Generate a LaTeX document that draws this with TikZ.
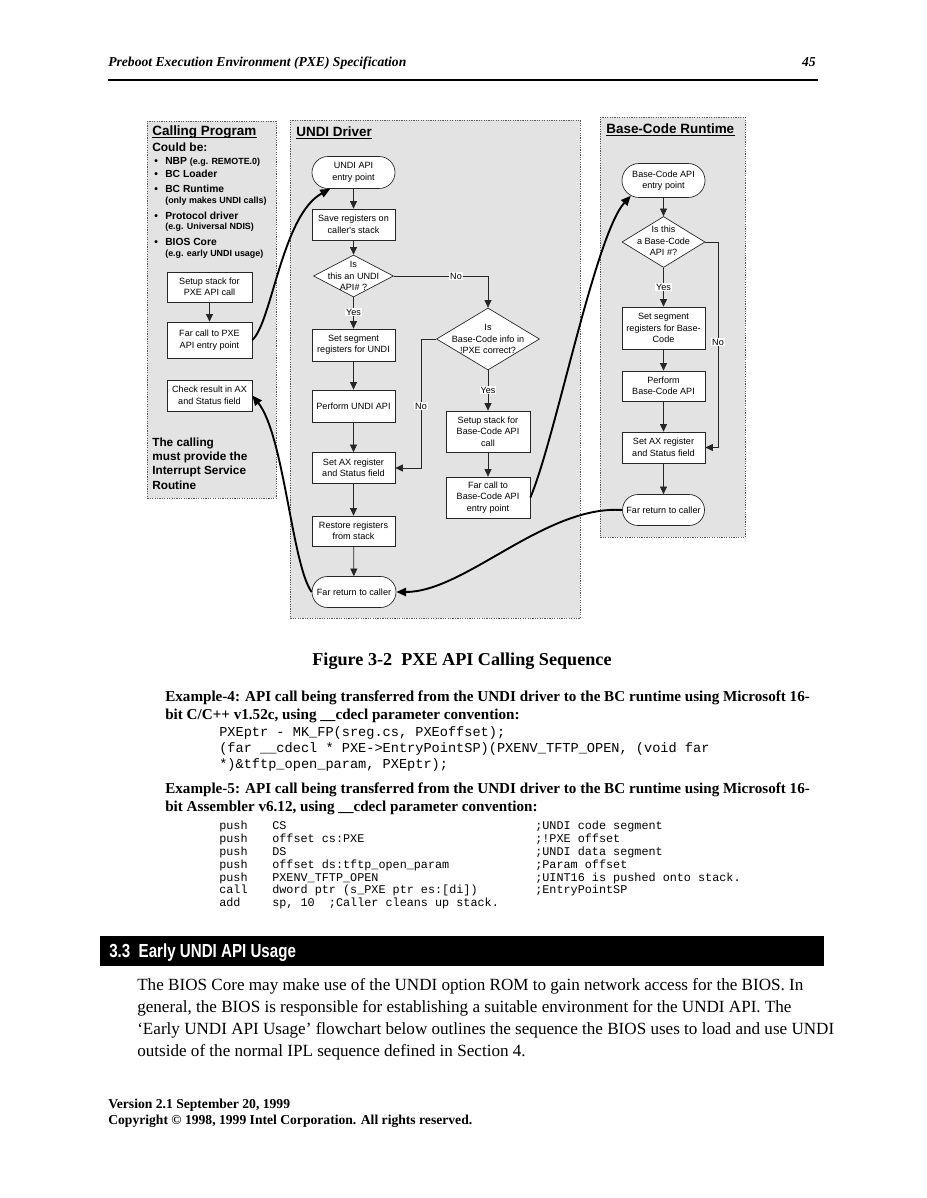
\documentclass[tikz,border=0pt]{standalone}
\usepackage{fontspec}
\setmainfont{Liberation Serif}
\setmonofont{Liberation Mono}
\newfontfamily\arial{Liberation Sans}
\newfontfamily\arialn[FakeStretch=0.8]{Liberation Sans}
\usetikzlibrary{shapes.geometric,shapes.misc,arrows.meta,calc}
\def\pxl{0.661pt}
\newcommand\dfont{\arial\fontsize{6}{7.6}\selectfont}
\begin{document}
\begin{tikzpicture}[x=0.661pt,y=-0.661pt,
  panel/.style={fill=black!11,draw=black!65,dash pattern=on 0.8pt off 0.8pt,line width=0.4pt},
  fbox/.style={draw=black!85,fill=white,line width=0.45pt,font=\dfont,align=center,inner sep=0pt,minimum width=83*\pxl},
  term/.style={rounded rectangle,draw=black!85,fill=white,line width=0.45pt,font=\dfont,align=center,inner sep=0pt,minimum width=83*\pxl,minimum height=32*\pxl},
  dia/.style={diamond,draw=black!85,fill=white,line width=0.45pt,inner sep=0pt},
  dtext/.style={font=\dfont,align=center,inner sep=0pt},
  flow/.style={draw=black!85,line width=0.5pt,-{Triangle[length=5pt,width=4.6pt]}},
  curv/.style={draw=black,line width=1.25pt,-{Triangle[length=6.5pt,width=5.5pt]}},
  lbl/.style={fill=white,inner sep=0.7pt,font=\dfont},
  txt/.style={anchor=base west,inner sep=0pt},
  ttl/.style={anchor=base west,inner sep=0pt,font=\arial\bfseries\fontsize{8.9}{10}\selectfont},
  uline/.style={line width=0.6pt},
]
\useasboundingbox (0,0) rectangle (926,1198);
\fill[white] (0,0) rectangle (926,1198);

% header
\node[txt,font=\fontsize{9}{11}\selectfont\bfseries\itshape] (hd) at (108,67) {Preboot Execution Environment (PXE) Specification};
\node[anchor=base east,inner sep=0pt,font=\fontsize{9}{11}\selectfont\bfseries\itshape] (pg) at (816,67) {45};
\coordinate (r1) at (108,80);
\coordinate (r2) at (818,80);
\draw[line width=0.9pt] (r1) -- (r2);

% panels
\node[panel,anchor=north west,minimum width=129*\pxl,minimum height=377*\pxl,inner sep=0pt] (pc) at (147,121) {};
\node[panel,anchor=north west,minimum width=290*\pxl,minimum height=498*\pxl,inner sep=0pt] (pu) at (290,120) {};
\node[panel,anchor=north west,minimum width=145*\pxl,minimum height=420*\pxl,inner sep=0pt] (pb) at (600,117) {};

% calling program texts
\node[ttl] (ct) at (152,136) {Calling Program};
\draw[uline] ($(ct.base west)+(0,1.8)$) -- ($(ct.base east)+(0,1.8)$);
\node[txt,font=\arial\bfseries\fontsize{7.9}{9}\selectfont] (cb) at (152,151.5) {Could be:};
\tikzset{bul/.style={anchor=base west,inner sep=0pt,font=\arial\bfseries\fontsize{6.8}{8}\selectfont},
         sub/.style={font=\arial\bfseries\fontsize{5.9}{7}\selectfont}}
\node[bul] (b1d) at (154,164.7) {•};
\node[bul] (b1) at (165,164.7) {NBP {\fontsize{5.9}{7}\selectfont (e.g. REMOTE.0)}};
\node[bul] (b2d) at (154,177.7) {•};
\node[bul] (b2) at (165,177.7) {BC Loader};
\node[bul] (b3d) at (154,192.7) {•};
\node[bul] (b3) at (165,192.7) {BC Runtime};
\node[txt,sub] (b3s) at (165,203.2) {(only makes UNDI calls)};
\node[bul] (b4d) at (154,219.7) {•};
\node[bul] (b4) at (165,219.7) {Protocol driver};
\node[txt,sub] (b4s) at (165,229.2) {(e.g. Universal NDIS)};
\node[bul] (b5d) at (154,245.7) {•};
\node[bul] (b5) at (165,245.7) {BIOS Core};
\node[txt,sub] (b5s) at (165,256.2) {(e.g. early UNDI usage)};

\node[fbox,minimum height=30*\pxl,minimum width=85*\pxl] (cs) at (209.5,287) {Setup stack for\\PXE API call};
\node[fbox,minimum height=36*\pxl,minimum width=85*\pxl] (cf) at (209.5,340) {Far call to PXE\\API entry point};
\node[fbox,minimum height=31*\pxl,minimum width=85*\pxl] (cr) at (209.5,395.5) {Check result in AX\\and Status field};
\draw[flow] (cs) -- (cf);

\node[txt,font=\arial\bfseries\fontsize{7.8}{9.3}\selectfont,align=left,anchor=north west] (ci) at (152,438) {The calling\\must provide the\\Interrupt Service\\Routine};

% UNDI driver
\node[ttl] (ut) at (296,136.5) {UNDI Driver};
\draw[uline] ($(ut.base west)+(0,1.8)$) -- ($(ut.base east)+(0,1.8)$);
\node[term] (ue) at (353.5,172.5) {UNDI API\\entry point};
\node[fbox,minimum height=31*\pxl] (us) at (353.5,224.5) {Save registers on\\caller's stack};
\node[dia,minimum width=80*\pxl,minimum height=42*\pxl] (d1) at (353.5,276) {};
\node[dtext] (d1t) at (353.5,276) {Is\\this an UNDI\\API\# ?};
\node[fbox,minimum height=32*\pxl] (ss) at (353.5,345) {Set segment\\registers for UNDI};
\node[fbox,minimum height=32*\pxl] (pf) at (353.5,406) {Perform UNDI API};
\node[fbox,minimum height=31*\pxl] (sa) at (353.5,468) {Set AX register\\and Status field};
\node[fbox,minimum height=30*\pxl] (rr) at (353.5,531) {Restore registers\\from stack};
\node[term,minimum width=84*\pxl,minimum height=31*\pxl] (fr) at (354,592) {Far return to caller};

\node[dia,minimum width=103*\pxl,minimum height=62*\pxl] (d2) at (488,339) {};
\node[dtext] (d2t) at (488,339) {Is\\Base-Code info in\\!PXE correct?};
\node[fbox,minimum width=84*\pxl,minimum height=41*\pxl] (sb) at (488,431.5) {Setup stack for\\Base-Code API\\call};
\node[fbox,minimum width=84*\pxl,minimum height=41*\pxl] (fb) at (488,497.5) {Far call to\\Base-Code API\\entry point};

\draw[flow] (ue) -- (us);
\draw[flow] (us) -- (d1);
\draw[flow] (d1) -- (ss);
\draw[flow] (ss) -- (pf);
\draw[flow] (pf) -- (sa);
\draw[flow] (sa) -- (rr);
\draw[flow] (rr) -- (fr);
\draw[flow] (d1.east) -| (d2.north);
\coordinate (k1) at (421,339);
\draw[flow] (d2.west) -- (k1) |- (sa.east);
\draw[flow] (d2) -- (sb);
\draw[flow] (sb) -- (fb);
\node[lbl] (y1) at (353.5,312) {Yes};
\node[lbl] (n1) at (456,276) {No};
\node[lbl] (n2) at (421,406) {No};
\node[lbl] (y2) at (488,390) {Yes};

% Base-code runtime
\node[ttl] (bt) at (606,133.5) {Base-Code Runtime};
\draw[uline] ($(bt.base west)+(0,1.8)$) -- ($(bt.base east)+(0,1.8)$);
\node[term,minimum width=83*\pxl,minimum height=34*\pxl] (be) at (663.5,180.5) {Base-Code API\\entry point};
\node[dia,minimum width=83*\pxl,minimum height=51*\pxl] (d3) at (663.5,242) {};
\node[dtext] (d3t) at (663.5,241) {Is this\\a Base-Code\\API \#?};
\node[fbox,minimum height=42*\pxl] (bs) at (663.5,328) {Set segment\\registers for Base-\\Code};
\node[fbox,minimum height=30*\pxl] (bp) at (663.5,386) {Perform\\Base-Code API};
\node[fbox,minimum height=31*\pxl] (ba) at (663.5,447.5) {Set AX register\\and Status field};
\node[term,minimum width=82*\pxl,minimum height=31*\pxl] (bf) at (663.5,510) {Far return to caller};
\draw[flow] (be) -- (d3);
\draw[flow] (d3) -- (bs);
\draw[flow] (bs) -- (bp);
\draw[flow] (bp) -- (ba);
\draw[flow] (ba) -- (bf);
\coordinate (k2) at (718,242);
\draw[flow] (d3.east) -- (k2) |- (ba.east);
\node[lbl] (y3) at (663.5,287) {Yes};
\node[lbl] (n3) at (718,342) {No};

% inter-program curves
\draw[curv] (cf.east) .. controls (272,322) and (282,215) .. (ue.215);
\draw[curv] (fr.west) .. controls (292,565) and (284,435) .. (cr.east);
\draw[curv] (fb.east) .. controls (555,440) and (595,235) .. (be.205);
\draw[curv] (bf.west) .. controls (545,505) and (465,592) .. (fr.east);

% caption
\node[anchor=base,inner sep=0pt,font=\fontsize{12}{14}\selectfont\bfseries] (cap) at (462,665) {Figure 3-2\ \ PXE API Calling Sequence};

% example 4
\node[txt,font=\fontsize{10}{12}\selectfont\bfseries] (e4a) at (165,701) {Example-4: API call being transferred from the UNDI driver to the BC runtime using Microsoft 16-};
\node[txt,font=\fontsize{10}{12}\selectfont\bfseries] (e4b) at (165,719) {bit C/C++ v1.52c, using \_\_cdecl parameter convention:};
\tikzset{code/.style={anchor=base west,inner sep=0pt,font=\ttfamily\fontsize{9}{10}\selectfont}}
\node[code] (c1) at (219,736) {PXEptr - MK\_FP(sreg.cs, PXEoffset);};
\node[code] (c2) at (219,752) {(far \_\_cdecl * PXE->EntryPointSP)(PXENV\_TFTP\_OPEN, (void far};
\node[code] (c3) at (219,768) {*)\&tftp\_open\_param, PXEptr);};

% example 5
\node[txt,font=\fontsize{10}{12}\selectfont\bfseries] (e5a) at (165,793) {Example-5: API call being transferred from the UNDI driver to the BC runtime using Microsoft 16-};
\node[txt,font=\fontsize{10}{12}\selectfont\bfseries] (e5b) at (165,811) {bit Assembler v6.12, using \_\_cdecl parameter convention:};
\tikzset{code5/.style={anchor=base west,inner sep=0pt,font=\ttfamily\fontsize{7.8}{9}\selectfont}}
\node[code5] (a1) at (219,829) {push};
\node[code5] (a2) at (219,842) {push};
\node[code5] (a3) at (219,855) {push};
\node[code5] (a4) at (219,868) {push};
\node[code5] (a5) at (219,881) {push};
\node[code5] (a6) at (219,893) {call};
\node[code5] (a7) at (219,906) {add};
\node[code5] (o1) at (272,829) {CS};
\node[code5] (o2) at (272,842) {offset cs:PXE};
\node[code5] (o3) at (272,855) {DS};
\node[code5] (o4) at (272,868) {offset ds:tftp\_open\_param};
\node[code5] (o5) at (272,881) {PXENV\_TFTP\_OPEN};
\node[code5] (o6) at (272,893) {dword ptr (s\_PXE ptr es:[di])};
\node[code5] (o7) at (272,906) {sp, 10\ \ ;Caller cleans up stack.};
\node[code5] (m1) at (535,829) {;UNDI code segment};
\node[code5] (m2) at (535,842) {;!PXE offset};
\node[code5] (m3) at (535,855) {;UNDI data segment};
\node[code5] (m4) at (535,868) {;Param offset};
\node[code5] (m5) at (535,881) {;UINT16 is pushed onto stack.};
\node[code5] (m6) at (535,893) {;EntryPointSP};

% section bar
\node[anchor=north west,fill=black,minimum width=724*\pxl,minimum height=30*\pxl,inner sep=0pt] (bar) at (100,936) {};
\node[txt,text=white,font=\arialn\bfseries\fontsize{12.5}{14}\selectfont] (sh) at (109,957.5) {3.3\ \ Early UNDI API Usage};

% body
\tikzset{body/.style={anchor=base west,inner sep=0pt,font=\fontsize{11.3}{13}\selectfont}}
\node[body] (p1) at (137,990.5) {The BIOS Core may make use of the UNDI option ROM to gain network access for the BIOS. In};
\node[body] (p2) at (137,1012.5) {general, the BIOS is responsible for establishing a suitable environment for the UNDI API. The};
\node[body] (p3) at (137,1034.5) {`Early UNDI API Usage' flowchart below outlines the sequence the BIOS uses to load and use UNDI};
\node[body] (p4) at (137,1056.5) {outside of the normal IPL sequence defined in Section 4.};

% footer
\node[txt,font=\fontsize{9}{11}\selectfont\bfseries] (f1) at (108,1108) {Version 2.1 September 20, 1999};
\node[txt,font=\fontsize{9}{11}\selectfont\bfseries] (f2) at (108,1124) {Copyright © 1998, 1999 Intel Corporation. All rights reserved.};
\end{tikzpicture}
\end{document}
